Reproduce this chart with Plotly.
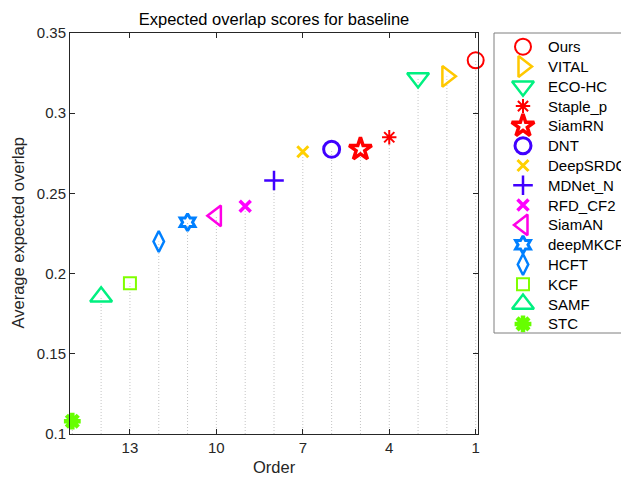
import plotly.graph_objects as go

names = ["Ours", "VITAL", "ECO-HC", "Staple_p", "SiamRN", "DNT", "DeepSRDCF",
         "MDNet_N", "RFD_CF2", "SiamAN", "deepMKCF", "HCFT", "KCF", "SAMF", "STC"]
orders = [1, 2, 3, 4, 5, 6, 7, 8, 9, 10, 11, 12, 13, 14, 15]
scores = [0.333, 0.323, 0.322, 0.285, 0.2775, 0.2775, 0.276,
          0.258, 0.242, 0.236, 0.232, 0.220, 0.194, 0.1855, 0.108]
x_tickvals = [13, 10, 7, 4, 1]
y_tickvals = [0.1, 0.15, 0.2, 0.25, 0.3, 0.35]
y_ticktext = ["0.1", "0.15", "0.2", "0.25", "0.3", "0.35"]

symbols = ["circle-open", "triangle-right-open", "triangle-down-open", "asterisk-open",
           "star-open", "circle-open", "x-thin-open", "cross-thin-open", "x-thin-open",
           "triangle-left-open", "hexagram-open", "diamond-tall-open", "square-open",
           "triangle-up-open", "asterisk-open"]
colors = ["#FF0000", "#FFC800", "#00F080", "#FF0000", "#FF0000", "#4000FF", "#FFD000",
          "#4000FF", "#FF00FF", "#FF00E6", "#0080FF", "#0080FF", "#80FF00", "#00F080", "#66FF00"]
sizes = [16, 18, 19, 12, 17, 16, 11, 14, 11, 18, 13, 15, 12, 19, 14]
lwidths = [2, 2.5, 2.5, 2, 3.5, 3, 3, 2.5, 3.5, 2.5, 3, 2.5, 2, 2.5, 4.5]

# figure geometry (the page body adds an 8px offset)
W, H = 621, 473
L, R, T, B = 62, 470, 25, 426          # main plot area, figure pixels
LGL, LGR, LGT, LGB = 486, 621, 25, 325  # legend box area, figure pixels


def px(x):
    return x / W


def py(y):
    return 1 - y / H


ymin = 0.1
fig = go.Figure()

# dotted stems from the bottom to every point
sx, sy = [], []
for o, s in zip(orders, scores):
    sx += [o, o, None]
    sy += [ymin, s, None]
fig.add_trace(go.Scatter(x=sx, y=sy, mode="lines", showlegend=False, hoverinfo="skip",
                         line=dict(color="#C4C4C4", width=1, dash="1px,2px")))

for n, o, s, sym, c, sz, lw in zip(names, orders, scores, symbols, colors, sizes, lwidths):
    fig.add_trace(go.Scatter(x=[o], y=[s], mode="markers", name=n, cliponaxis=False,
                             showlegend=False,
                             marker=dict(symbol=sym, size=sz, color=c,
                                         line=dict(color=c, width=lw))))

# legend drawn in its own pixel-scaled subplot
leg_mx, leg_tx, leg_y0, leg_dy = 515, 538, 38.7, 19.8
leg_y = [leg_y0 + i * leg_dy for i in range(len(names))]
for i, (n, sym, c, sz, lw) in enumerate(zip(names, symbols, colors, sizes, lwidths)):
    fig.add_trace(go.Scatter(x=[leg_mx], y=[leg_y[i]], xaxis="x2", yaxis="y2",
                             mode="markers", showlegend=False, cliponaxis=False,
                             hoverinfo="skip",
                             marker=dict(symbol=sym, size=sz, color=c,
                                         line=dict(color=c, width=lw))))

annotations = []
for i, n in enumerate(names):
    annotations.append(dict(text=n, xref="paper", yref="paper", x=px(leg_tx), y=py(leg_y[i]),
                            xanchor="left", yanchor="middle", showarrow=False,
                            font=dict(size=15, color="black")))
annotations.append(dict(text="Order", xref="paper", yref="paper", x=px((L + R) / 2),
                        y=py(459), xanchor="center", yanchor="middle", showarrow=False,
                        font=dict(size=16.5, color="#262626")))
annotations.append(dict(text="Average expected overlap", xref="paper", yref="paper",
                        x=px(10), y=py((T + B) / 2), textangle=-90, xanchor="center",
                        yanchor="middle", showarrow=False,
                        font=dict(size=16.5, color="#262626")))

axcol = "#262626"
fig.update_layout(
    width=W, height=H,
    margin=dict(l=0, r=0, t=0, b=0, autoexpand=False, pad=0),
    paper_bgcolor="white", plot_bgcolor="rgba(0,0,0,0)",
    font=dict(family="Liberation Sans, Arial, sans-serif", size=15, color=axcol),
    showlegend=False,
    title=dict(text="Expected overlap scores for baseline", x=px(266), xref="paper",
               xanchor="center", y=1 - 11.5 / H, yref="container", yanchor="middle",
               font=dict(size=16.5, color="black")),
    xaxis=dict(domain=[px(L), px(R)], range=[15.08, 0.92], tickvals=x_tickvals,
               ticks="inside", ticklen=5, tickcolor=axcol, showline=True, linecolor=axcol,
               linewidth=1, mirror="ticks", showgrid=False, zeroline=False,
               tickfont=dict(size=15, color=axcol), anchor="y"),
    yaxis=dict(domain=[py(B), py(T)], range=[0.1, 0.35], tickvals=y_tickvals,
               ticktext=y_ticktext, ticks="inside", ticklen=5, tickcolor=axcol,
               showline=True, linecolor=axcol, linewidth=1, mirror="ticks", showgrid=False,
               zeroline=False, tickfont=dict(size=15, color=axcol), anchor="x"),
    xaxis2=dict(domain=[px(LGL), px(LGR)], range=[LGL, LGR], visible=False, anchor="y2"),
    yaxis2=dict(domain=[py(LGB), py(LGT)], range=[LGB, LGT], visible=False, anchor="x2"),
    annotations=annotations,
    shapes=[dict(type="rect", xref="paper", yref="paper",
                 x0=px(LGL), x1=px(700), y0=py(LGB), y1=py(LGT),
                 line=dict(color="#7F7F7F", width=1), fillcolor="rgba(0,0,0,0)")],
)

fig.write_html("out.html")
